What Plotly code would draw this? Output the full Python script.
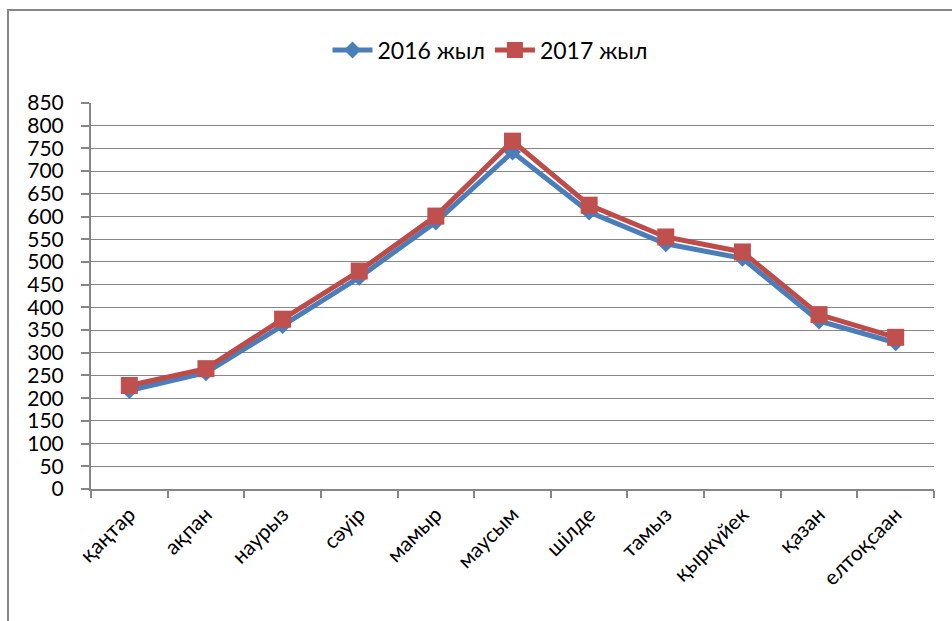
import plotly.graph_objects as go

months = ["қаңтар", "ақпан", "наурыз", "сәуір", "мамыр", "маусым",
          "шілде", "тамыз", "қыркүйек", "қазан", "елтоқсаан"]
y2016 = [217, 256, 360, 466, 588, 742, 610, 540, 508, 370, 322]
y2017 = [228, 265, 374, 480, 601, 766, 625, 555, 522, 384, 334]
ytick_vals = list(range(0, 851, 50))

W, H = 952, 621
L, R, T, B = 91, 18, 103, 132
pw, ph = W - L - R, H - T - B

def px(x):
    return (x - L) / pw

def py(y):
    return (H - B - y) / ph

fig = go.Figure()
fig.add_trace(go.Scatter(
    x=months, y=y2016, name="2016 жыл", mode="lines+markers",
    line=dict(color="#4A7EBB", width=5),
    marker=dict(symbol="diamond", size=13, color="#4A7EBB"),
))
fig.add_trace(go.Scatter(
    x=months, y=y2017, name="2017 жыл", mode="lines+markers",
    line=dict(color="#BE4B48", width=5),
    marker=dict(symbol="square", size=17, color="#C0504D"),
))

frame_path = "M {a},{b} L {a},{c} L {d},{c}".format(
    a=px(8), b=py(H + 5), c=py(10), d=px(W + 5))

fig.update_layout(
    width=W, height=H,
    margin=dict(l=L, r=R, t=T, b=B, pad=0, autoexpand=False),
    paper_bgcolor="white", plot_bgcolor="white",
    font=dict(family="Lato, 'Open Sans', sans-serif", size=21, color="black"),
    showlegend=True,
    legend=dict(orientation="h", x=px(490), xanchor="center", y=py(50), yanchor="middle",
                font=dict(size=23), bgcolor="rgba(0,0,0,0)", itemwidth=40),
    shapes=[
        dict(type="rect", xref="paper", yref="paper", layer="above",
             x0=px(937), x1=px(W + 5), y0=py(13), y1=py(H + 5),
             fillcolor="white", line=dict(width=0)),
        dict(type="path", xref="paper", yref="paper", path=frame_path,
             line=dict(color="#868686", width=2)),
    ],
)
fig.update_xaxes(
    type="category", range=[-0.5, len(months) - 0.5], tickangle=-45, showgrid=False,
    automargin=False,
    showline=True, linecolor="#868686", linewidth=2,
    ticks="outside", tickson="boundaries", ticklen=7, tickcolor="#868686", tickwidth=1.5,
    tickfont=dict(size=21), ticklabelstandoff=3,
)
fig.update_yaxes(
    range=[0, 850], tickvals=ytick_vals, showgrid=True, gridcolor="#868686", gridwidth=1.3,
    showline=True, linecolor="#868686", linewidth=2, zeroline=False, automargin=False,
    ticks="outside", ticklen=8, tickcolor="#868686", tickwidth=1.5,
    tickfont=dict(size=21), ticklabelstandoff=13,
)

fig.write_html(
    "out.html",
    config={"displayModeBar": False},
    post_script="document.body.style.margin='0';document.body.style.overflow='hidden';",
)
